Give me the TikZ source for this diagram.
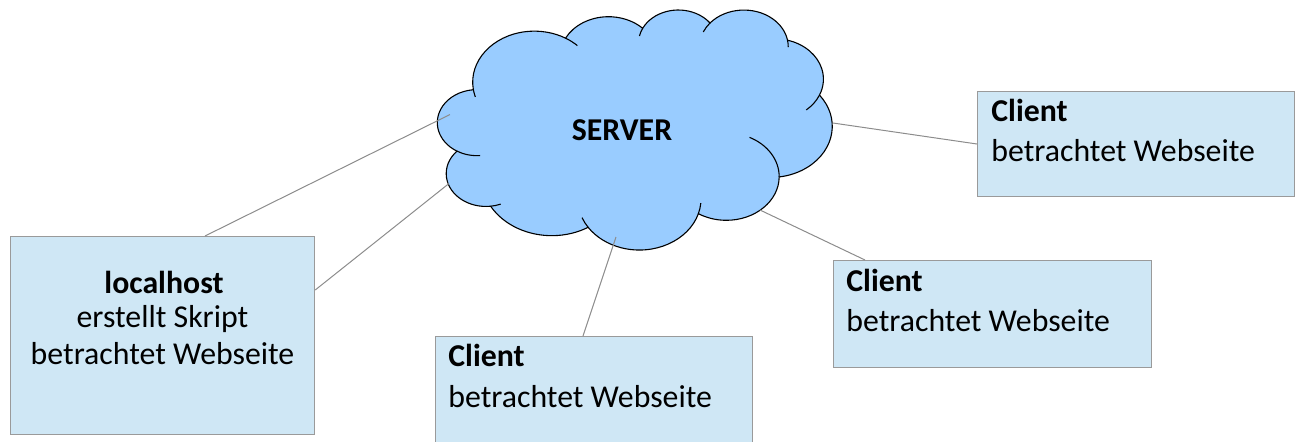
\documentclass[tikz,border=0pt]{standalone}
\usepackage{fontspec}
\setmainfont{Carlito}
\usetikzlibrary{calc}
\definecolor{cloudfill}{HTML}{99CCFF}
\definecolor{boxfill}{HTML}{CFE7F5}
\definecolor{boxline}{HTML}{9A9A9A}
\definecolor{linkline}{HTML}{8C8C8C}
\begin{document}
\begin{tikzpicture}[x=0.5pt, y=-0.5pt,
  cloudline/.style={draw=black, line width=0.55pt},
  box/.style={draw=boxline, fill=boxfill, line width=0.6pt, inner sep=0pt, anchor=north west},
  txt/.style={inner sep=0pt, anchor=base west, font=\fontsize{15.9}{18}\selectfont},
  ctxt/.style={inner sep=0pt, anchor=base, font=\fontsize{15.9}{18}\selectfont},
  btxt/.style={font=\fontsize{15.9}{18}\selectfont\bfseries},
  link/.style={draw=linkline, line width=0.5pt}]
\clip (0,0) rectangle (1298,441);
% cloud
\begin{scope}[shift={(437.65,9.23)}, xscale=0.9131, yscale=0.5554]
  \draw[cloudline, fill=cloudfill] (39.00,143.70)
    arc[x radius=67.53, y radius=91.90, start angle=172.26, end angle=300.37]
    arc[x radius=53.33, y radius=72.67, start angle=-152.04, end angle=-45.46]
    arc[x radius=43.65, y radius=59.45, start angle=-153.50, end angle=-37.34]
    arc[x radius=48.57, y radius=65.95, start angle=-139.71, end angle=-10.21]
    arc[x radius=53.33, y radius=72.73, start angle=-74.77, end angle=23.21]
    arc[x radius=67.75, y radius=92.20, start angle=-37.51, end angle=81.86]
    arc[x radius=57.85, y radius=78.67, start angle=0.46, end angle=121.98]
    arc[x radius=67.52, y radius=92.15, start angle=16.84, end angle=146.21]
    arc[x radius=77.20, y radius=105.43, start angle=58.99, end angle=150.19]
    arc[x radius=43.60, y radius=59.18, start angle=83.31, end angle=223.10]
    arc[x radius=43.45, y radius=59.45, start angle=120.34, end angle=264.11]
    -- cycle;
  \draw[cloudline] (43.074,204.154) ++(85.54:43.45 and 59.45) arc[x radius=43.45, y radius=59.45, start angle=85.54, end angle=120.34];
  \draw[cloudline] (52.953,295.892) ++(68.24:43.60 and 59.18) arc[x radius=43.60, y radius=59.18, start angle=68.24, end angle=83.31];
  \draw[cloudline] (220.916,341.373) ++(146.21:67.52 and 92.15) arc[x radius=67.52, y radius=92.15, start angle=146.21, end angle=158.48];
  \draw[cloudline] (220.916,341.373) ++(4.74:67.52 and 92.15) arc[x radius=67.52, y radius=92.15, start angle=4.74, end angle=16.84];
  \draw[cloudline] (316.179,301.345) ++(-64.03:57.85 and 78.67) arc[x radius=57.85, y radius=78.67, start angle=-64.03, end angle=0.46];
  \draw[cloudline] (369.166,125.901) ++(23.21:53.33 and 72.73) arc[x radius=53.33, y radius=72.73, start angle=23.21, end angle=49.64];
  \draw[cloudline] (335.377,67.418) ++(-10.21:48.57 and 65.95) arc[x radius=48.57, y radius=65.95, start angle=-10.21, end angle=0.82];
  \draw[cloudline] (335.377,67.418) ++(-156.30:48.57 and 65.95) arc[x radius=48.57, y radius=65.95, start angle=-156.30, end angle=-139.71];
  \draw[cloudline] (263.629,60.829) ++(-167.72:43.65 and 59.45) arc[x radius=43.65, y radius=59.45, start angle=-167.72, end angle=-153.50];
  \draw[cloudline] (105.914,131.314) ++(-59.63:67.53 and 91.90) arc[x radius=67.53, y radius=91.90, start angle=-59.63, end angle=-45.74];
  \draw[cloudline] (105.914,131.314) ++(163.20:67.53 and 91.90) arc[x radius=67.53, y radius=91.90, start angle=163.20, end angle=172.26];
\end{scope}
\node[ctxt, btxt] (server) at (622,140) {SERVER};
% boxes
\node[box, minimum width=152pt, minimum height=99pt] (local) at (10,236) {};
\node[box, minimum width=158.5pt, minimum height=52.5pt] (c1) at (977,91) {};
\node[box, minimum width=159pt, minimum height=53.5pt] (c2) at (833,260) {};
\node[box, minimum width=158.5pt, minimum height=57.5pt] (c3) at (435,336) {};
% connectors
\coordinate (e1) at (450,114.5);
\coordinate (e2) at (449,183.5);
\coordinate (e3) at (616,237);
\coordinate (e4) at (760,210);
\coordinate (e5) at (833,123);
\draw[link] ($(local.north west)+(195,0)$) -- (e1);
\draw[link] ($(local.north east)+(0,54)$) -- (e2);
\draw[link] ($(c3.north west)+(148,0)$) -- (e3);
\draw[link] ($(c2.north west)+(32,0)$) -- (e4);
\draw[link] ($(c1.north west)+(0,53)$) -- (e5);
% texts
\node[ctxt, btxt] (l1) at (164,293) {localhost};
\node[ctxt] (l2) at (162.5,327) {erstellt Skript};
\node[ctxt] (l3) at (162.5,364) {betrachtet Webseite};
\node[txt, btxt] (a1) at (991,121.7) {Client};
\node[txt] (a2) at (991,161.7) {betrachtet Webseite};
\node[txt, btxt] (b1) at (846,291.7) {Client};
\node[txt] (b2) at (846,331.7) {betrachtet Webseite};
\node[txt, btxt] (d1) at (448,366.7) {Client};
\node[txt] (d2) at (448,407) {betrachtet Webseite};
\end{tikzpicture}
\end{document}
